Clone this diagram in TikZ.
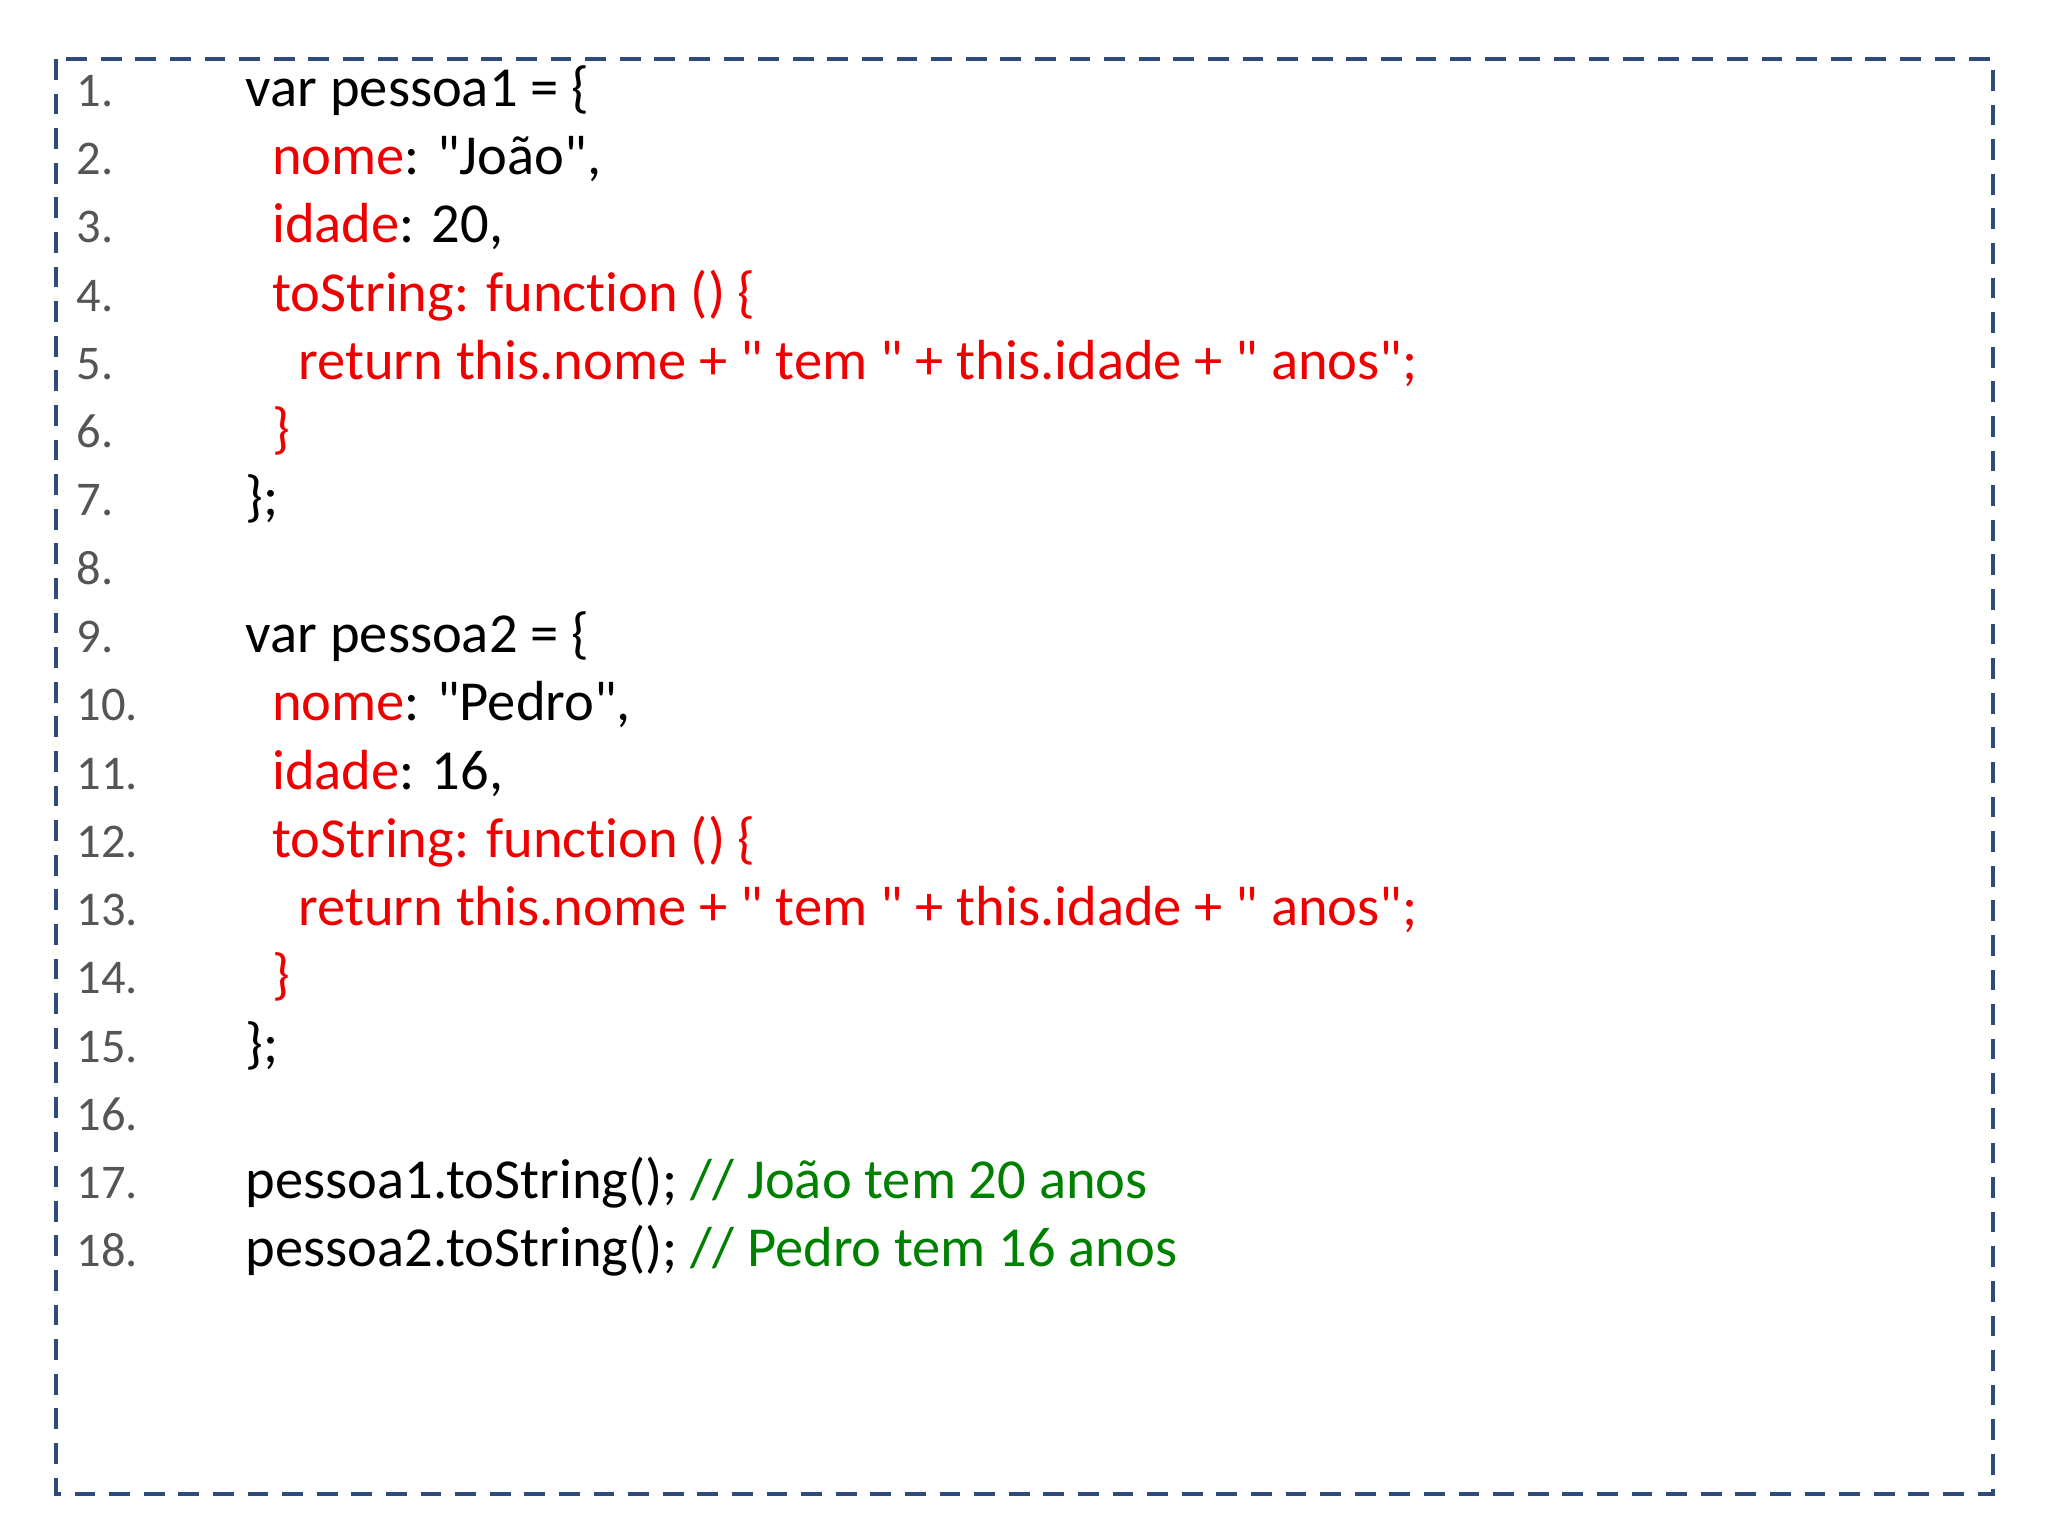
\documentclass[tikz,border=0pt]{standalone}
\usepackage{fontspec}
\setmainfont{Carlito}[Ligatures={TeXOff,NoCommon}]
\definecolor{frame}{HTML}{2F4B7C}
\definecolor{codered}{HTML}{EE0000}
\definecolor{codegreen}{HTML}{008000}
\definecolor{numgray}{HTML}{555555}
\newcommand{\qq}{\symbol{34}}
\begin{document}
\begin{tikzpicture}[x=0.02cm,y=-0.02cm,
  ln/.style={anchor=base west,inner sep=0pt,font=\fontsize{21pt}{25pt}\selectfont,text=numgray},
  cd/.style={anchor=base west,inner sep=0pt,font=\fontsize{24.5pt}{28pt}\selectfont,text=black}]
\useasboundingbox (0,0) rectangle (1560,1170);
\coordinate (tl) at (43,45);
\coordinate (br) at (1518,1138);
\draw[frame,line width=1.7pt,dash pattern=on 9pt off 6pt] (tl) rectangle (br);
\foreach \i in {1,...,18}{
  \node[ln] (n\i) at (58,{81+(\i-1)*52}) {\i.};
}
\def\Y#1{{81+(#1-1)*52}}
\node[cd] (c1) at (187,\Y{1}) {var pessoa1 = \{};
\node[cd] (c2) at (207,\Y{2}) {\textcolor{codered}{nome}: \qq João\qq,};
\node[cd] (c3) at (207,\Y{3}) {\textcolor{codered}{idade}: 20,};
\node[cd,text=codered] (c4) at (207,\Y{4}) {toString: function () \{};
\node[cd,text=codered] (c5) at (227,\Y{5}) {return this.nome + \qq{} tem \qq{} + this.idade + \qq{} anos\qq;};
\node[cd,text=codered] (c6) at (207,\Y{6}) {\}};
\node[cd] (c7) at (187,\Y{7}) {\};};
\node[cd] (c9) at (187,\Y{9}) {var pessoa2 = \{};
\node[cd] (c10) at (207,\Y{10}) {\textcolor{codered}{nome}: \qq Pedro\qq,};
\node[cd] (c11) at (207,\Y{11}) {\textcolor{codered}{idade}: 16,};
\node[cd,text=codered] (c12) at (207,\Y{12}) {toString: function () \{};
\node[cd,text=codered] (c13) at (227,\Y{13}) {return this.nome + \qq{} tem \qq{} + this.idade + \qq{} anos\qq;};
\node[cd,text=codered] (c14) at (207,\Y{14}) {\}};
\node[cd] (c15) at (187,\Y{15}) {\};};
\node[cd] (c17) at (187,\Y{17}) {pessoa1.toString(); \textcolor{codegreen}{// João tem 20 anos}};
\node[cd] (c18) at (187,\Y{18}) {pessoa2.toString(); \textcolor{codegreen}{// Pedro tem 16 anos}};
\end{tikzpicture}
\end{document}
